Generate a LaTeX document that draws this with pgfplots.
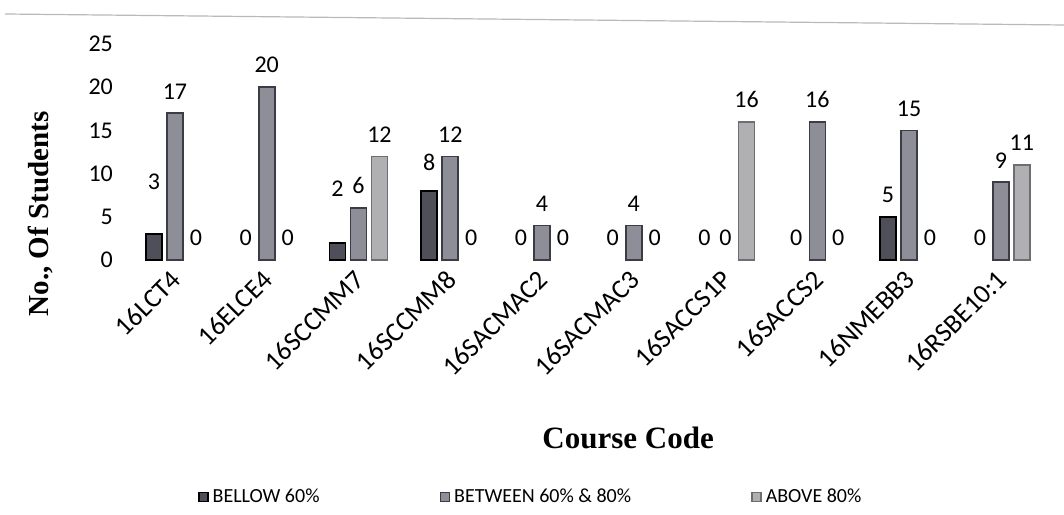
\documentclass[border=0pt]{standalone}
\usepackage{fontspec}
\setmainfont{Carlito}
\newfontfamily\serifb{Liberation Serif}
\usepackage{pgfplots}
\usepackage{pgfplotstable}
\pgfplotsset{compat=1.18}
\definecolor{cbelow}{HTML}{4F4F5A}
\definecolor{cbetween}{HTML}{8E8E98}
\definecolor{cabove}{HTML}{B0B0B2}
\definecolor{dbetween}{HTML}{3C3C44}
\definecolor{dabove}{HTML}{6E6E72}

\pgfplotstableread{
x y off
0 3 15
1 0 0
2 2 16
3 8 3
4 0 0
5 0 0
6 0 0
7 0 0
8 5 0
9 0 0
}\below
\pgfplotstableread{
x y
0 17
1 20
2 6
3 12
4 4
5 4
6 0
7 16
8 15
9 9
}\between
\pgfplotstableread{
x y
0 0
1 0
2 12
3 0
4 0
5 0
6 16
7 0
8 0
9 11
}\above

\begin{document}
\begin{tikzpicture}[x=1pt,y=1pt]
\path[use as bounding box] (0,0) rectangle (532,257);
\draw[gray!55, line width=0.6pt] (2.5,250) -- (532,244.5);
\begin{axis}[
  at={(59.95pt,127pt)}, anchor=south west,
  scale only axis, width=468pt, height=108pt,
  xmin=-0.6, xmax=9.6, ymin=0, ymax=25,
  axis line style={draw=none}, major tick length=0pt,
  xtick={0,...,9},
  xticklabels={16LCT4,16ELCE4,16SCCMM7,16SCCMM8,16SACMAC2,16SACMAC3,16SACCS1P,16SACCS2,16NMEBB3,16RSBE10:1},
  xticklabel style={xshift=3pt, yshift=-5pt, rotate=45, anchor=east, font=\fontsize{13.5}{15}\selectfont},
  ytick={0,5,...,25},
  yticklabel style={font=\fontsize{12}{14}\selectfont, xshift=0pt},
  /pgf/number format/assume math mode=true,
  xlabel={Course Code},
  xlabel style={at={(axis description cs:0.543,-0.822)}, anchor=center, font=\serifb\bfseries\fontsize{15.5}{18}\selectfont},
  ylabel={No., Of Students},
  ylabel style={at={(axis description cs:-0.085,0.213)}, anchor=center, font=\serifb\bfseries\fontsize{14.5}{17}\selectfont},
  ybar, bar width=8pt,
  legend columns=3,
  legend style={at={(axis description cs:0.44,-1.097)}, anchor=center, draw=none, fill=none,
    font=\fontsize{10}{12}\selectfont,
    /tikz/every even column/.append style={column sep=58pt}},
  legend image code/.code={\draw[#1] (0pt,-2.25pt) rectangle (4.5pt,2.25pt);},
]
% visible bars (non-zero values)
\addplot[bar shift=-10.5pt, fill=cbelow, draw=black, line width=0.8pt] coordinates {(0,3) (2,2) (3,8) (8,5)};
\addlegendentry{BELLOW 60\%}
\addplot[bar shift=0pt, fill=cbetween, draw=dbetween, line width=0.8pt] coordinates {(0,17) (1,20) (2,6) (3,12) (4,4) (5,4) (7,16) (8,15) (9,9)};
\addlegendentry{BETWEEN 60\% \& 80\%}
\addplot[bar shift=10.5pt, fill=cabove, draw=dabove, line width=0.8pt] coordinates {(2,12) (6,16) (9,11)};
\addlegendentry{ABOVE 80\%}
% value labels (all values, including zeros)
\addplot[forget plot, bar shift=-10.5pt, draw=none, fill=none,
  visualization depends on={\thisrow{off} \as \myoff},
  nodes near coords,
  every node near coord/.append style={anchor=south, font=\fontsize{12}{14}\selectfont, yshift=3.5pt+\myoff pt}]
  table[x=x,y=y] {\below};
\addplot[forget plot, bar shift=0pt, draw=none, fill=none,
  nodes near coords,
  every node near coord/.append style={anchor=south, font=\fontsize{12}{14}\selectfont, yshift=3.5pt}]
  table[x=x,y=y] {\between};
\addplot[forget plot, bar shift=10.5pt, draw=none, fill=none,
  nodes near coords,
  every node near coord/.append style={anchor=south, font=\fontsize{12}{14}\selectfont, yshift=3.5pt}]
  table[x=x,y=y] {\above};
\end{axis}
\end{tikzpicture}
\end{document}
